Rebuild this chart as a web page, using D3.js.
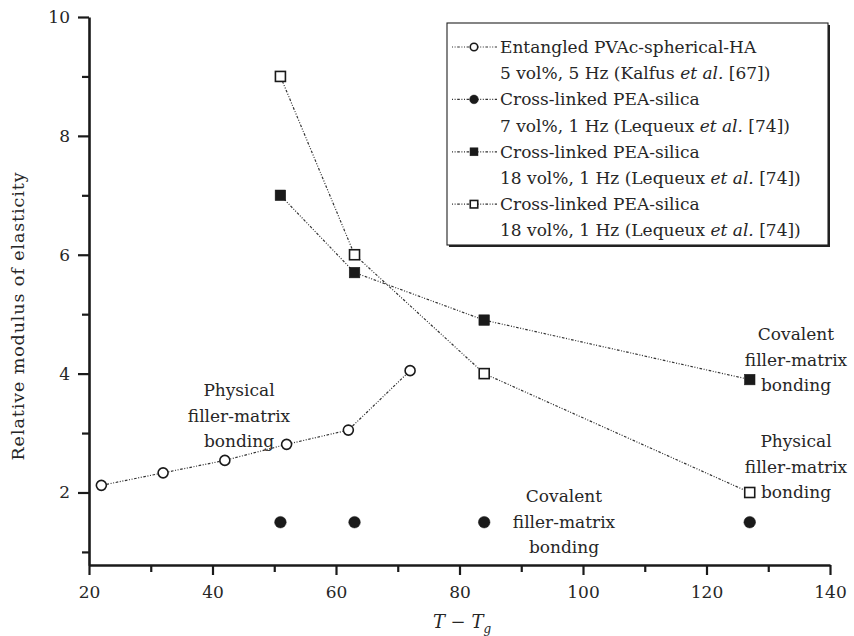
<!DOCTYPE html>
<html>
<head>
<meta charset="utf-8">
<script src="https://cdn.jsdelivr.net/npm/d3@7"></script>
<style>
  body { margin: 0; background: #fff; }
  svg text { font-family: "DejaVu Serif", serif; fill: #262626; }
</style>
</head>
<body>
<svg id="chart" width="854" height="636"></svg>
<script>
// values
var entangledT = [22, 32, 42, 52, 62, 72],
    entangledE = [2.12, 2.33, 2.54, 2.81, 3.05, 4.05];
var pea7T = [51, 63, 84, 127],
    pea7E = [1.5, 1.5, 1.5, 1.5];
var pea18aT = [51, 63, 84, 127],
    pea18aE = [7.0, 5.7, 4.9, 3.9];
var pea18bT = [51, 63, 84, 127],
    pea18bE = [9.0, 6.0, 4.0, 2.0];

var xMajor = [20, 40, 60, 80, 100, 120, 140],
    xMinor = [30, 50, 70, 90, 110, 130];
var yMajor = [2, 4, 6, 8, 10],
    yMinor = [1, 3, 5, 7, 9];

var legendLines = [
    ["Entangled PVAc-spherical-HA", "5 vol%, 5 Hz (Kalfus ", "[67])"],
    ["Cross-linked PEA-silica", "7 vol%, 1 Hz (Lequeux ", "[74])"],
    ["Cross-linked PEA-silica", "18 vol%, 1 Hz (Lequeux ", "[74])"],
    ["Cross-linked PEA-silica", "18 vol%, 1 Hz (Lequeux ", "[74])"]
];

var svg = d3.select("#chart");

var x = d3.scaleLinear().domain([20, 140]).range([89, 830]);
var y = d3.scaleLinear().domain([0.78, 10]).range([565, 17]);

var dotted = "1,1.6,1,1.6,2.6,1.6";
var serif = "DejaVu Serif";

// axes
svg.append("g").attr("transform", "translate(0,565)")
    .call(d3.axisBottom(x).tickValues(xMajor).tickSize(10).tickSizeOuter(0).tickPadding(11));
svg.append("g").attr("transform", "translate(0,565)")
    .call(d3.axisBottom(x).tickValues(xMinor).tickSize(7).tickFormat("").tickSizeOuter(0))
    .select(".domain").remove();

svg.append("g").attr("transform", "translate(89,0)")
    .call(d3.axisLeft(y).tickValues(yMajor).tickSize(11).tickSizeOuter(0).tickPadding(8));
svg.append("g").attr("transform", "translate(89,0)")
    .call(d3.axisLeft(y).tickValues(yMinor).tickSize(7).tickFormat("").tickSizeOuter(0))
    .select(".domain").remove();

svg.selectAll(".domain").attr("stroke", "#1a1a1a").attr("stroke-width", 2.6);
svg.selectAll(".tick line").attr("stroke", "#1a1a1a").attr("stroke-width", 2.2);
svg.selectAll(".tick text")
    .attr("font-family", serif)
    .attr("font-size", 17)
    .attr("fill", "#262626");

// axis titles
svg.append("text")
    .attr("transform", "translate(24,316) rotate(-90)")
    .attr("text-anchor", "middle")
    .attr("font-size", 17.5)
    .attr("letter-spacing", 0.9)
    .text("Relative modulus of elasticity");

var xt = svg.append("text")
    .attr("x", 462).attr("y", 628)
    .attr("text-anchor", "middle")
    .attr("font-size", 18);
xt.append("tspan").attr("font-style", "italic").text("T");
xt.append("tspan").text(" \u2212 ");
xt.append("tspan").attr("font-style", "italic").text("T");
xt.append("tspan").attr("font-style", "italic").attr("font-size", 12).attr("dy", 5).text("g");

// lines
var line = d3.line()
    .x(function(d) { return x(d[0]); })
    .y(function(d) { return y(d[1]); });

function pairs(ts, es) {
    return ts.map(function(t, i) { return [t, es[i]]; });
}

var series = [
    {data: pairs(entangledT, entangledE), shape: "circle", fill: "#fff", line: true},
    {data: pairs(pea7T, pea7E), shape: "circle", fill: "#1a1a1a", line: false},
    {data: pairs(pea18aT, pea18aE), shape: "square", fill: "#1a1a1a", line: true},
    {data: pairs(pea18bT, pea18bE), shape: "square", fill: "#fff", line: true}
];

series.forEach(function(s) {
    if (s.line) {
        svg.append("path")
            .attr("d", line(s.data))
            .attr("fill", "none")
            .attr("stroke", "#333")
            .attr("stroke-width", 1.2)
            .attr("stroke-dasharray", dotted);
    }
});

function drawMarker(g, shape, fill, cx, cy, k) {
    k = k || 1;
    if (shape == "circle") {
        var r = (fill == "#fff" ? 5 : 5.8) * k;
        g.append("circle")
            .attr("cx", cx).attr("cy", cy).attr("r", r)
            .attr("fill", fill)
            .attr("stroke", "#1a1a1a")
            .attr("stroke-width", fill == "#fff" ? 1.6 : 0.5);
    } else {
        var a = (fill == "#fff" ? 10 : 10.6) * k;
        g.append("rect")
            .attr("x", cx - a / 2).attr("y", cy - a / 2)
            .attr("width", a).attr("height", a)
            .attr("fill", fill)
            .attr("stroke", "#1a1a1a")
            .attr("stroke-width", fill == "#fff" ? 1.6 : 0.5);
    }
}

series.forEach(function(s) {
    var g = svg.append("g");
    s.data.forEach(function(d) {
        drawMarker(g, s.shape, s.fill, x(d[0]), y(d[1]));
    });
});

// annotations
function note(cx, baseline, lines) {
    lines.forEach(function(t, i) {
        svg.append("text")
            .attr("x", cx).attr("y", baseline + i * 25.5)
            .attr("text-anchor", "middle")
            .attr("font-size", 17)
            .text(t);
    });
}
note(239, 396, ["Physical", "filler-matrix", "bonding"]);
note(796, 340, ["Covalent", "filler-matrix", "bonding"]);
note(796, 447, ["Physical", "filler-matrix", "bonding"]);
note(564, 502, ["Covalent", "filler-matrix", "bonding"]);

// legend
var lg = svg.append("g");
lg.append("rect")
    .attr("x", 449).attr("y", 25).attr("width", 381).attr("height", 222)
    .attr("fill", "#222");
lg.append("rect")
    .attr("x", 447).attr("y", 23).attr("width", 381).attr("height", 222)
    .attr("fill", "#fff").attr("stroke", "#222").attr("stroke-width", 1.1);

legendLines.forEach(function(l, i) {
    var base = 53 + i * 52.4;
    var s = series[i];
    lg.append("line")
        .attr("x1", 452).attr("x2", 497)
        .attr("y1", base - 6).attr("y2", base - 6)
        .attr("stroke", "#333").attr("stroke-width", 1.2)
        .attr("stroke-dasharray", dotted);
    drawMarker(lg, s.shape, s.fill, 474, base - 6, 0.75);
    lg.append("text")
        .attr("x", 500).attr("y", base)
        .attr("font-size", 17)
        .text(l[0]);
    var t2 = lg.append("text")
        .attr("x", 500).attr("y", base + 26.2)
        .attr("font-size", 17);
    t2.append("tspan").text(l[1]);
    t2.append("tspan").attr("font-style", "italic").text("et al.");
    t2.append("tspan").text(" " + l[2]);
});
</script>
</body>
</html>
